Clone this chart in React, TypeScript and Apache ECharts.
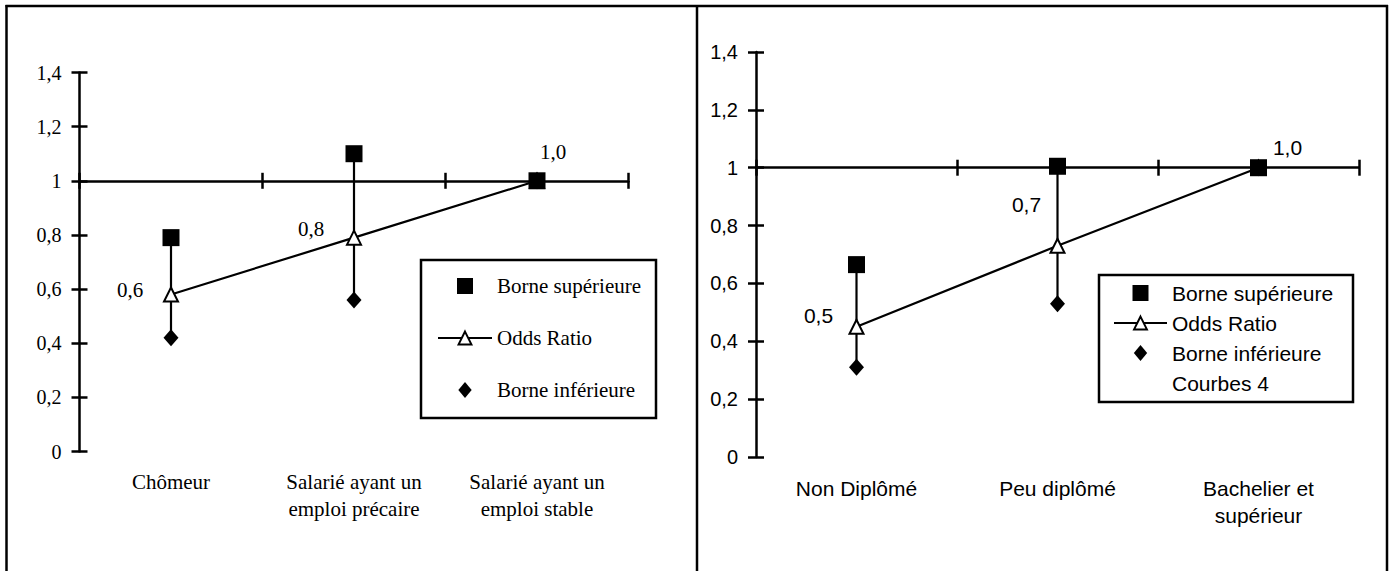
import React, { useEffect, useRef } from "react";
import * as echarts from "echarts";

// ---- Left panel data ----
const leftCategories = ["Chômeur", "Salarié ayant un\nemploi précaire", "Salarié ayant un\nemploi stable"];
const leftUpper = [0.79, 1.1, 1.0];
const leftOdds = [0.58, 0.79, 1.0];
const leftLower = [0.42, 0.56, 1.0];
const leftOddsLabels = ["0,6", "0,8", "1,0"];

// ---- Right panel data ----
const rightCategories = ["Non Diplômé", "Peu diplômé", "Bachelier et\nsupérieur"];
const rightUpper = [0.665, 1.005, 1.0];
const rightOdds = [0.45, 0.73, 1.0];
const rightLower = [0.31, 0.53, 1.0];
const rightOddsLabels = ["0,5", "0,7", "1,0"];

const legendNames = ["Borne supérieure", "Odds Ratio", "Borne inférieure"];
const extraLegend = "Courbes 4";

const yMin = 0;
const yMax = 1.4;
const yInterval = 0.2;

const SERIF = "Liberation Serif";
const SANS = "Liberation Sans";

const leftGrid = { left: 79.5, top: 72.5, width: 549, height: 379 };
const rightGrid = { left: 756, top: 52, width: 603, height: 405 };

const leftLabelOffsets = [[-41, -4], [-43, -9], [16, -29]];
const rightLabelOffsets = [[-38, -11], [-31, -41], [29, -20]];

const SQUARE_ICON = "path://M0,0L10,0L10,10L0,10Z";
const DIAMOND_ICON = "path://M5,0L10,6L5,12L0,6Z";

function fmt(v: number) {
  return String(+v.toFixed(1)).replace(".", ",");
}

function buildAxes(cats: string[], grid: any, gridIndex: number, font: string, labelMargin: number) {
  const off = -(grid.height / (yMax - yMin)) * (1 - yMin);
  const xAxes = [
    {
      type: "category", gridIndex, data: cats, position: "bottom", offset: off, boundaryGap: true,
      axisLine: { show: true, onZero: false, lineStyle: { color: "#000", width: 2.5 } },
      axisTick: { show: true, inside: false, length: 8, lineStyle: { color: "#000", width: 2.5 } },
      axisLabel: { show: false }, splitLine: { show: false },
    },
    {
      type: "category", gridIndex, data: cats, position: "bottom", offset: off, boundaryGap: true,
      axisLine: { show: false, onZero: false },
      axisTick: { show: true, inside: true, length: 8, lineStyle: { color: "#000", width: 2.5 } },
      axisLabel: { show: false }, splitLine: { show: false },
    },
    {
      type: "category", gridIndex, data: cats, position: "bottom", offset: 0, boundaryGap: true,
      axisLine: { show: false, onZero: false },
      axisTick: { show: false },
      axisLabel: {
        show: true, interval: 0, margin: labelMargin, color: "#000", fontFamily: font, fontSize: 21,
        lineHeight: 27, verticalAlign: "top",
      },
      splitLine: { show: false },
    },
  ];
  const yAxes = [
    {
      type: "value", gridIndex, min: yMin, max: yMax, interval: yInterval, position: "left",
      axisLine: { show: true, onZero: false, lineStyle: { color: "#000", width: 2.5 } },
      axisTick: { show: true, inside: false, length: 8, lineStyle: { color: "#000", width: 2.5 } },
      axisLabel: { show: true, margin: 18, color: "#000", fontFamily: font, fontSize: 20, formatter: fmt },
      splitLine: { show: false },
    },
    {
      type: "value", gridIndex, min: yMin, max: yMax, interval: yInterval, position: "left",
      axisLine: { show: false, onZero: false },
      axisTick: { show: true, inside: true, length: 8, lineStyle: { color: "#000", width: 2.5 } },
      axisLabel: { show: false },
      splitLine: { show: false },
    },
  ];
  return { xAxes, yAxes };
}

function buildSeries(
  xIdx: number, yIdx: number, upper: number[], odds: number[], lower: number[],
  labels: string[], offsets: number[][], font: string
) {
  const hl = upper.map((u, i) => [i, u, lower[i]]);
  return [
    {
      type: "custom", xAxisIndex: xIdx, yAxisIndex: yIdx, z: 1, silent: true,
      encode: { x: 0, y: [1, 2] },
      data: hl,
      renderItem: (params: any, api: any) => {
        const p1 = api.coord([api.value(0), api.value(1)]);
        const p2 = api.coord([api.value(0), api.value(2)]);
        return {
          type: "line",
          shape: { x1: p1[0], y1: p1[1], x2: p2[0], y2: p2[1] },
          style: { stroke: "#000", lineWidth: 2.2 },
        };
      },
    },
    {
      name: legendNames[1], type: "line", xAxisIndex: xIdx, yAxisIndex: yIdx, z: 3,
      symbol: "emptyTriangle", symbolSize: 14, showAllSymbol: true,
      lineStyle: { color: "#000", width: 2.2 },
      itemStyle: { color: "#000", borderColor: "#000", borderWidth: 2, opacity: 1 },
      data: odds.map((v, i) => ({
        value: v,
        label: {
          show: true, position: "inside", offset: offsets[i], formatter: labels[i],
          color: "#000", fontFamily: font, fontSize: 21,
        },
      })),
    },
    {
      name: legendNames[2], type: "scatter", xAxisIndex: xIdx, yAxisIndex: yIdx, z: 4,
      symbol: "diamond", symbolSize: [15, 17], itemStyle: { color: "#000", opacity: 1 },
      data: lower,
    },
    {
      name: legendNames[0], type: "scatter", xAxisIndex: xIdx, yAxisIndex: yIdx, z: 5,
      symbol: "rect", symbolSize: 17, itemStyle: { color: "#000", opacity: 1 },
      data: upper,
    },
  ];
}

function legendData(withExtra: boolean) {
  const d: any[] = [
    { name: legendNames[0], icon: SQUARE_ICON },
    { name: legendNames[1] },
    { name: legendNames[2], icon: DIAMOND_ICON },
  ];
  if (withExtra) d.push({ name: extraLegend, icon: SQUARE_ICON, itemStyle: { color: "rgba(0,0,0,0)", opacity: 0 } });
  return d;
}

export default function App() {
  const ref = useRef<HTMLDivElement>(null);
  useEffect(() => {
    if (!ref.current) return;
    const chart = echarts.init(ref.current, undefined, { renderer: "svg" });
    const L = buildAxes(leftCategories, leftGrid, 0, SERIF, 17);
    const R = buildAxes(rightCategories, rightGrid, 1, SANS, 17.5);
    const series: any[] = [
      ...buildSeries(0, 0, leftUpper, leftOdds, leftLower, leftOddsLabels, leftLabelOffsets, SERIF),
      ...buildSeries(3, 2, rightUpper, rightOdds, rightLower, rightOddsLabels, rightLabelOffsets, SANS),
      {
        name: extraLegend, type: "scatter", xAxisIndex: 3, yAxisIndex: 2,
        symbol: "rect", symbolSize: 1, itemStyle: { color: "rgba(0,0,0,0)", opacity: 0 }, data: [],
      },
    ];
    const option: any = {
      animation: false,
      backgroundColor: "#fff",
      grid: [
        { ...leftGrid, containLabel: false },
        { ...rightGrid, containLabel: false },
      ],
      xAxis: [...L.xAxes, ...R.xAxes],
      yAxis: [...L.yAxes, ...R.yAxes],
      legend: [
        {
          orient: "vertical", left: 437, top: 275.5, itemWidth: 54, itemHeight: 16, itemGap: 31,
          padding: 0, selectedMode: false, symbolKeepAspect: true,
          textStyle: { color: "#000", fontFamily: SERIF, fontSize: 21, lineHeight: 21 },
          data: legendData(false),
        },
        {
          orient: "vertical", left: 1113, top: 282.5, itemWidth: 53, itemHeight: 16, itemGap: 9,
          padding: 0, selectedMode: false, symbolKeepAspect: true,
          textStyle: { color: "#000", fontFamily: SANS, fontSize: 21, lineHeight: 21 },
          data: legendData(true),
        },
      ],
      graphic: [
        { type: "rect", shape: { x: 421, y: 260, width: 235, height: 158 }, style: { fill: "none", stroke: "#000", lineWidth: 2.5 }, z: 10, silent: true },
        { type: "rect", shape: { x: 1099, y: 275, width: 254, height: 127 }, style: { fill: "none", stroke: "#000", lineWidth: 2.5 }, z: 10, silent: true },
        { type: "line", shape: { x1: 5.5, y1: 6, x2: 1388, y2: 6 }, style: { stroke: "#000", lineWidth: 2.5 }, silent: true },
        { type: "line", shape: { x1: 6.5, y1: 5, x2: 6.5, y2: 571 }, style: { stroke: "#000", lineWidth: 2.5 }, silent: true },
        { type: "line", shape: { x1: 697, y1: 5, x2: 697, y2: 571 }, style: { stroke: "#000", lineWidth: 2.5 }, silent: true },
        { type: "line", shape: { x1: 1387, y1: 5, x2: 1387, y2: 571 }, style: { stroke: "#000", lineWidth: 2.5 }, silent: true },
      ],
      series,
    };
    chart.setOption(option);
    return () => chart.dispose();
  }, []);
  return (
    <div
      ref={ref}
      style={{ position: "absolute", left: 0, top: 0, width: 1391, height: 571, background: "#fff" }}
    />
  );
}
